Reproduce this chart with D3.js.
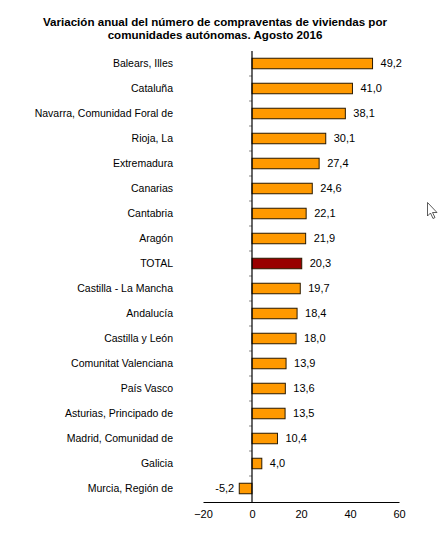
<!DOCTYPE html>
<html>
<head>
<meta charset="utf-8">
<script src="https://cdn.jsdelivr.net/npm/d3@7"></script>
<style>
  body { margin: 0; background: #fff; }
  text { font-family: "Liberation Sans", Arial, sans-serif; fill: #000; }
</style>
</head>
<body>
<svg id="chart" width="441" height="549"></svg>
<script>
// Data
const regions = [
  "Balears, Illes", "Cataluña", "Navarra, Comunidad Foral de", "Rioja, La",
  "Extremadura", "Canarias", "Cantabria", "Aragón", "TOTAL",
  "Castilla - La Mancha", "Andalucía", "Castilla y León",
  "Comunitat Valenciana", "País Vasco", "Asturias, Principado de",
  "Madrid, Comunidad de", "Galicia", "Murcia, Región de"
];
const variation = [49.2, 41.0, 38.1, 30.1, 27.4, 24.6, 22.1, 21.9, 20.3,
  19.7, 18.4, 18.0, 13.9, 13.6, 13.5, 10.4, 4.0, -5.2];
const xTicks = [-20, 0, 20, 40, 60];
const titleLines = [
  "Variación anual del número de compraventas de viviendas por",
  "comunidades autónomas. Agosto 2016"
];

const svg = d3.select("#chart");

// Title
svg.append("g").selectAll("text")
  .data(titleLines)
  .enter().append("text")
  .attr("x", 215)
  .attr("y", (d, i) => 25.5 + i * 13)
  .attr("text-anchor", "middle")
  .attr("font-size", "11.6px")
  .attr("font-weight", "bold")
  .text(d => d);

const x = d3.scaleLinear().domain([-20, 60]).range([203, 399]);
const y = d3.scaleBand().domain(regions).range([51, 501]).paddingInner(0.58).paddingOuter(0.29);
const step = y.step();

// small ticks between categories on the zero axis
svg.append("g").selectAll("line")
  .data(regions.slice(1))
  .enter().append("line")
  .attr("x1", x(0) - 3).attr("x2", x(0))
  .attr("y1", d => y(d) - (step - y.bandwidth()) / 2)
  .attr("y2", d => y(d) - (step - y.bandwidth()) / 2)
  .attr("stroke", "#888").attr("stroke-width", 1);

// Bars
const fmt = v => v.toFixed(1).replace(".", ",");
const data = regions.map((r, i) => ({ region: r, value: variation[i] }));

svg.append("g").selectAll("rect")
  .data(data)
  .enter().append("rect")
  .attr("x", d => x(Math.min(0, d.value)))
  .attr("y", d => y(d.region))
  .attr("width", d => Math.abs(x(d.value) - x(0)))
  .attr("height", y.bandwidth())
  .attr("fill", d => d.region === "TOTAL" ? "#990000" : "#FF9900")
  .attr("stroke", "#2a1a00")
  .attr("stroke-width", 1);

// Value labels
svg.append("g").selectAll("text")
  .data(data)
  .enter().append("text")
  .attr("x", d => d.value >= 0 ? x(d.value) + 8 : x(d.value) - 5)
  .attr("y", d => y(d.region) + y.bandwidth() / 2)
  .attr("dy", "0.35em")
  .attr("text-anchor", d => d.value >= 0 ? "start" : "end")
  .attr("font-size", "11px")
  .text(d => fmt(d.value));

// Category labels
svg.append("g").selectAll("text")
  .data(regions)
  .enter().append("text")
  .attr("x", 173)
  .attr("y", d => y(d) + y.bandwidth() / 2)
  .attr("dy", "0.35em")
  .attr("text-anchor", "end")
  .attr("font-size", "10.5px")
  .text(d => d);

// Zero axis line
svg.append("line")
  .attr("x1", x(0)).attr("x2", x(0))
  .attr("y1", 51).attr("y2", 502)
  .attr("stroke", "#000").attr("stroke-width", 1.2);

// X axis
const xAxis = svg.append("g")
  .attr("transform", "translate(0,502)")
  .call(d3.axisBottom(x).tickValues(xTicks).tickSize(0).tickPadding(8));
xAxis.select(".domain").attr("stroke", "#000").attr("stroke-width", 1.2);
xAxis.selectAll("text")
  .attr("font-size", "11px")
  .attr("font-family", "Liberation Sans, Arial, sans-serif")
  .attr("fill", "#000");

// mouse pointer seen in the screenshot
svg.append("path")
  .attr("d", "M427.5,202.5 L427.5,216 L430.5,213 L433,218.5 L435,217.5 L432.5,212.5 L437,212.5 Z")
  .attr("fill", "#fff").attr("stroke", "#333").attr("stroke-width", 0.8);
</script>
</body>
</html>
